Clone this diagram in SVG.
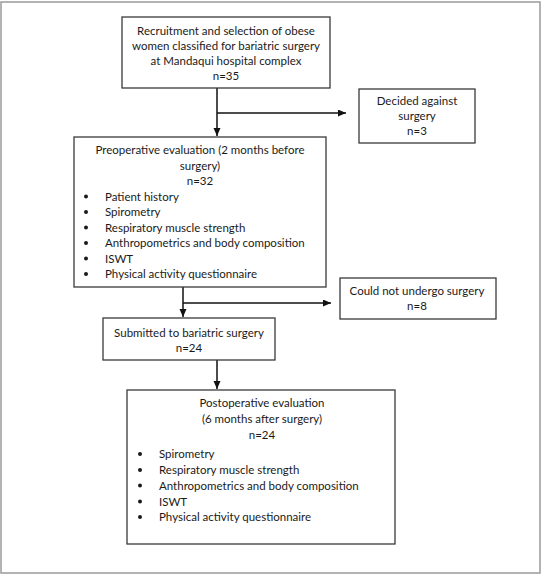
<svg xmlns="http://www.w3.org/2000/svg" width="545" height="576" viewBox="0 0 545 576">
<style>
.frame{fill:none;stroke:#9a9a9a;stroke-width:1.5}
.box{fill:#fff;stroke:#3a3a3a;stroke-width:1.3}
.t{font-family:Lato,"Liberation Sans",sans-serif;font-size:11.5px;fill:#1a1a1a}
.c{text-anchor:middle}
.conn{stroke:#111;stroke-width:1.5;fill:none}
.bul{fill:#1a1a1a}
</style>
<defs>
<marker id="arr" markerUnits="userSpaceOnUse" markerWidth="9" markerHeight="8" refX="8" refY="3.5" orient="auto">
<path d="M0,0 L8,3.5 L0,7 z" fill="#111"/>
</marker>
</defs>
<rect class="frame" x="1" y="2" width="539" height="571"/>
<g id="connectors">
<line class="conn" x1="217" y1="88" x2="217" y2="136" marker-end="url(#arr)"/>
<line class="conn" x1="217" y1="113" x2="346" y2="113" marker-end="url(#arr)"/>
<line class="conn" x1="183" y1="287" x2="183" y2="317" marker-end="url(#arr)"/>
<line class="conn" x1="183" y1="303" x2="331" y2="303" marker-end="url(#arr)"/>
<line class="conn" x1="217" y1="360" x2="217" y2="389" marker-end="url(#arr)"/>
</g>
<g id="recruitment">
<rect class="box" x="122" y="17" width="208" height="71"/>
<text class="t c" x="226" y="35">Recruitment and selection of obese</text>
<text class="t c" x="226" y="50">women classified for bariatric surgery</text>
<text class="t c" x="226" y="65">at Mandaqui hospital complex</text>
<text class="t c" x="226" y="80">n=35</text>
</g>
<g id="decided">
<rect class="box" x="359" y="89" width="116" height="54"/>
<text class="t c" x="417" y="105">Decided against</text>
<text class="t c" x="417" y="120">surgery</text>
<text class="t c" x="417" y="135">n=3</text>
</g>
<g id="preoperative">
<rect class="box" x="74" y="137" width="252" height="150"/>
<text class="t c" x="200" y="154">Preoperative evaluation (2 months before</text>
<text class="t c" x="200" y="169.5">surgery)</text>
<text class="t c" x="200" y="185">n=32</text>
<circle class="bul" cx="86" cy="196.5" r="2"/>
<text class="t" x="105" y="200.5">Patient history</text>
<circle class="bul" cx="86" cy="212" r="2"/>
<text class="t" x="105" y="216">Spirometry</text>
<circle class="bul" cx="86" cy="227.5" r="2"/>
<text class="t" x="105" y="231.5">Respiratory muscle strength</text>
<circle class="bul" cx="86" cy="243" r="2"/>
<text class="t" x="105" y="247">Anthropometrics and body composition</text>
<circle class="bul" cx="86" cy="258.5" r="2"/>
<text class="t" x="105" y="262.5">ISWT</text>
<circle class="bul" cx="86" cy="274" r="2"/>
<text class="t" x="105" y="278">Physical activity questionnaire</text>
</g>
<g id="could-not">
<rect class="box" x="340" y="278" width="156" height="41"/>
<text class="t c" x="417" y="295">Could not undergo surgery</text>
<text class="t c" x="417" y="309.5">n=8</text>
</g>
<g id="submitted">
<rect class="box" x="103" y="318" width="172" height="42"/>
<text class="t c" x="189" y="337">Submitted to bariatric surgery</text>
<text class="t c" x="189" y="352">n=24</text>
</g>
<g id="postoperative">
<rect class="box" x="127" y="390" width="268" height="154"/>
<text class="t c" x="262" y="407">Postoperative evaluation</text>
<text class="t c" x="262" y="423">(6 months after surgery)</text>
<text class="t c" x="262" y="439">n=24</text>
<circle class="bul" cx="140" cy="454" r="2"/>
<text class="t" x="159" y="458">Spirometry</text>
<circle class="bul" cx="140" cy="470" r="2"/>
<text class="t" x="159" y="474">Respiratory muscle strength</text>
<circle class="bul" cx="140" cy="485.5" r="2"/>
<text class="t" x="159" y="489.5">Anthropometrics and body composition</text>
<circle class="bul" cx="140" cy="501.5" r="2"/>
<text class="t" x="159" y="505.5">ISWT</text>
<circle class="bul" cx="140" cy="517" r="2"/>
<text class="t" x="159" y="521">Physical activity questionnaire</text>
</g>
</svg>
